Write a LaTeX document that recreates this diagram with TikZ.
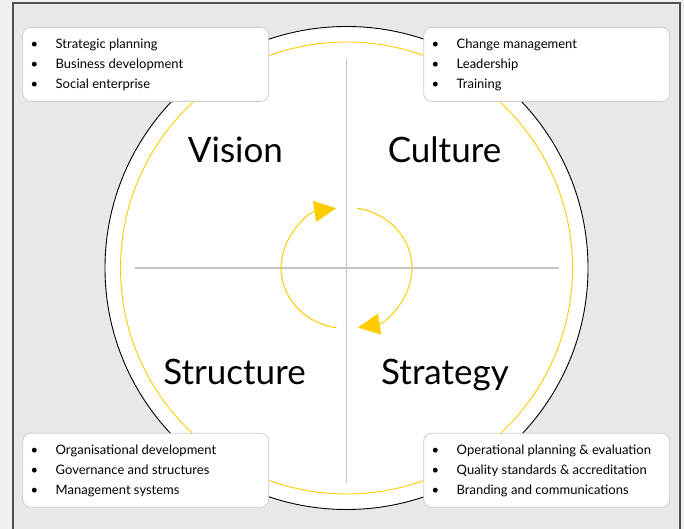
\documentclass[tikz,border=0pt]{standalone}
\usepackage{fontspec}
\setmainfont{Lato}
\usetikzlibrary{arrows.meta,calc}
\definecolor{outerbg}{HTML}{EFEFEF}
\definecolor{innerbg}{HTML}{E8E8E8}
\definecolor{framec}{HTML}{505050}
\definecolor{ylw}{HTML}{FFCC00}
\definecolor{crossc}{HTML}{C4C4C4}
\definecolor{boxline}{HTML}{CCCCCC}
\tikzset{
  listbox/.style={rounded corners=8pt, draw=boxline, fill=white, line width=0.8pt,
    minimum width=246pt, minimum height=74pt, inner sep=0pt},
  listtext/.style={anchor=base west, inner sep=0pt, font=\fontsize{13}{20}\selectfont},
  title/.style={anchor=base, inner sep=0pt, font=\fontsize{35}{40}\selectfont},
  crossline/.style={draw=crossc, line width=1.8pt},
  cyc/.style={draw=ylw, line width=1pt, -{Triangle[length=22pt,width=21pt,fill=ylw]}},
}
\newcommand{\bl}[3]{\begin{tabular}[t]{@{}p{25pt}@{}l@{}}\textbullet & #1\\ \textbullet & #2\\ \textbullet & #3\end{tabular}}
\begin{document}
\begin{tikzpicture}[x=1pt,y=1pt]
\useasboundingbox (0,0) rectangle (684,529);
% background and frame
\fill[outerbg] (0,0) rectangle (684,529);
\fill[innerbg] (13,0) rectangle (680,526);
\draw[framec, line width=1.5pt] (13,0) -- (13,526) -- (680,526) -- (680,0);
% circles
\coordinate (c) at (346.5,261);
\node[circle, draw=black, fill=white, line width=0.9pt, minimum size=483pt, inner sep=0pt] (outer) at (c) {};
\node[circle, draw=ylw, line width=0.9pt, minimum size=452pt, inner sep=0pt] (inner) at (c) {};
% cross
\coordinate (vt) at (346.5,470);
\coordinate (vb) at (346.5,46);
\coordinate (hl) at (135,261);
\coordinate (hr) at (559,261);
\draw[crossline] (vt) -- (vb);
\draw[crossline] (hl) -- (hr);
% cycle arrows
\draw[cyc] ($(c)+(261:65.5 and 60.5)$) coordinate (a1s) arc[start angle=261, end angle=99, x radius=65.5, y radius=60.5];
\draw[cyc] ($(c)+(81:65.5 and 60.5)$) coordinate (a2s) arc[start angle=81, end angle=-80, x radius=65.5, y radius=60.5];
% titles
\node[title] (vision) at (235.5,366) {Vision};
\node[title] (culture) at (444.5,366) {Culture};
\node[title] (structure) at (234.5,144) {Structure};
\node[title] (strategy) at (445,144) {Strategy};
% boxes
\node[listbox] (tl) at (145.7,464.6) {};
\node[listbox] (tr) at (546.7,464.6) {};
\node[listbox] (bl) at (145.7,58.7) {};
\node[listbox] (br) at (546.7,58.7) {};
\node[listtext] (tlt) at (30.5,480) {\bl{Strategic planning}{Business development}{Social enterprise}};
\node[listtext] (trt) at (431.5,480) {\bl{Change management}{Leadership}{Training}};
\node[listtext] (blt) at (30.5,74) {\bl{Organisational development}{Governance and structures}{Management systems}};
\node[listtext] (brt) at (431.5,74) {\bl{Operational planning \& evaluation}{Quality standards \& accreditation}{Branding and communications}};
\end{tikzpicture}
\end{document}
